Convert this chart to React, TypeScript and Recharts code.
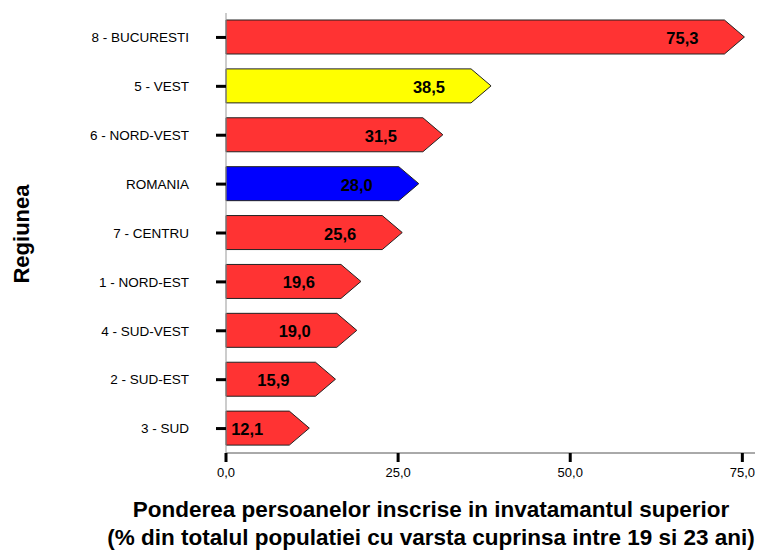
import React from 'react';
import { BarChart, Bar, XAxis, YAxis, Cell, LabelList } from 'recharts';

const regions = [
  '8 - BUCURESTI',
  '5 - VEST',
  '6 - NORD-VEST',
  'ROMANIA',
  '7 - CENTRU',
  '1 - NORD-EST',
  '4 - SUD-VEST',
  '2 - SUD-EST',
  '3 - SUD',
];
const values = [75.3, 38.5, 31.5, 28.0, 25.6, 19.6, 19.0, 15.9, 12.1];
const barColors = ['#FF3333', '#FFFF00', '#FF3333', '#0000FF', '#FF3333', '#FF3333', '#FF3333', '#FF3333', '#FF3333'];
const xTicks = [0, 25, 50, 75];

const xTitle1 = 'Ponderea persoanelor inscrise in invatamantul superior';
const xTitle2 = '(% din totalul populatiei cu varsta cuprinsa intre 19 si 23 ani)';
const yTitle = 'Regiunea';

const data = regions.map((r, i) => ({ region: r, value: values[i] }));

const FONT = '"Liberation Sans", Arial, sans-serif';

const fmt = (v: number) => v.toFixed(1).replace('.', ',');

const ArrowBar = (props: any) => {
  const { x, y, width, height, fill } = props;
  const d = Math.min(20, width);
  const pts = [
    [x, y],
    [x + width - d, y],
    [x + width, y + height / 2],
    [x + width - d, y + height],
    [x, y + height],
  ]
    .map((p) => p.join(','))
    .join(' ');
  return <polygon points={pts} fill={fill} stroke="#222" strokeWidth={1} />;
};

const ValueLabel = (props: any) => {
  const { x, y, width, height, value } = props;
  return (
    <text
      x={x + width - 46}
      y={y + height / 2 + 1}
      textAnchor="end"
      dominantBaseline="central"
      fontFamily={FONT}
      fontWeight="bold"
      fontSize={16.5}
      fill="#000"
    >
      {fmt(Number(value))}
    </text>
  );
};

const XTitle = () => (
  <g>
    <text x={423} y={509} textAnchor="middle" fontFamily={FONT} fontWeight="bold" fontSize={22.5} fill="#000">
      {xTitle1}
    </text>
    <text x={423} y={537} textAnchor="middle" fontFamily={FONT} fontWeight="bold" fontSize={22.5} fill="#000">
      {xTitle2}
    </text>
  </g>
);

const YTitle = () => (
  <text
    x={13}
    y={226}
    transform="rotate(-90 13 226)"
    textAnchor="middle"
    dominantBaseline="central"
    fontFamily={FONT}
    fontWeight="bold"
    fontSize={22}
    fill="#000"
  >
    {yTitle}
  </text>
);

export default function App() {
  return (
    <BarChart
      width={755}
      height={542}
      data={data}
      layout="vertical"
      margin={{ top: 5, right: 0, bottom: 0, left: 0 }}
      style={{ fontFamily: FONT }}
    >
      <XAxis
        type="number"
        domain={[0, 78]}
        ticks={xTicks}
        tickFormatter={fmt}
        height={97}
        axisLine={{ stroke: '#555', strokeWidth: 1 }}
        tickLine={{ stroke: '#000', strokeWidth: 3 }}
        tickSize={9}
        tickMargin={6}
        tick={{ fontSize: 13, fill: '#000', fontFamily: FONT }}
        label={<XTitle />}
      />
      <XAxis
        xAxisId="top"
        orientation="top"
        type="number"
        domain={[0, 78]}
        height={0}
        tick={false}
        tickLine={false}
        axisLine={{ stroke: '#a0a0a0', strokeWidth: 1 }}
      />
      <YAxis
        type="category"
        dataKey="region"
        width={218}
        axisLine={{ stroke: '#999', strokeWidth: 1 }}
        tickLine={{ stroke: '#000', strokeWidth: 3 }}
        tickSize={10}
        tickMargin={27}
        tick={{ fontSize: 13.5, fill: '#000', fontFamily: FONT }}
        interval={0}
        label={<YTitle />}
      />
      <Bar dataKey="value" barSize={34} shape={<ArrowBar />} isAnimationActive={false}>
        {data.map((_, i) => (
          <Cell key={i} fill={barColors[i]} />
        ))}
        <LabelList dataKey="value" content={<ValueLabel />} />
      </Bar>
    </BarChart>
  );
}
